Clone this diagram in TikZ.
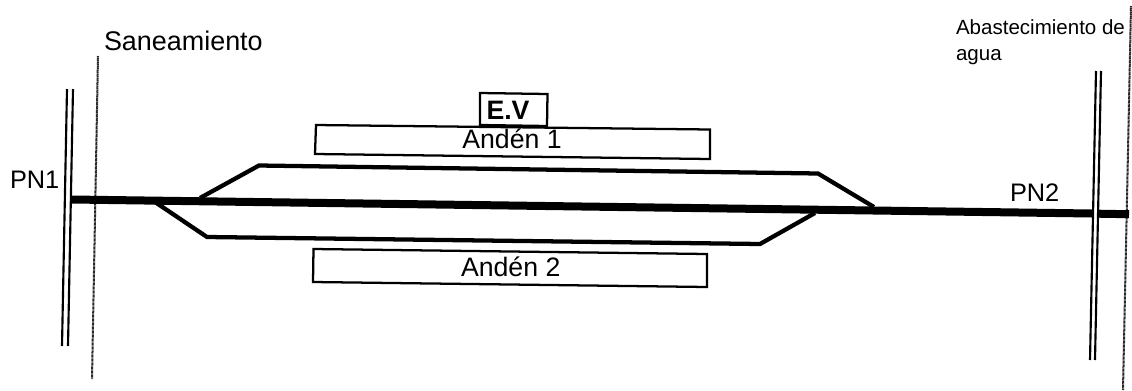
\documentclass[tikz,border=0pt]{standalone}
\usepackage{fontspec}
\setmainfont{Liberation Sans}
\tikzset{
  px/.style={x=0.75pt,y=-0.75pt},
  barrier/.style={line width=1.6pt,black},
  limitline/.style={line width=1.5pt,black!85,dash pattern=on 0.7pt off 0.3pt},
  mainline/.style={line width=6pt,black},
  siding/.style={line width=3.2pt,black,line join=miter},
  platform/.style={line width=1.7pt,black,line join=miter},
  lbl/.style={inner sep=0pt,outer sep=0pt,anchor=base west,text=black},
  lblc/.style={inner sep=0pt,outer sep=0pt,anchor=base,text=black}
}
\newcommand{\fs}[1]{\fontsize{#1}{#1}\selectfont}
\begin{document}
\begin{tikzpicture}[px]
\path[use as bounding box,fill=white] (0,0) rectangle (1132,390);
% named points
\coordinate (b1at) at (67,89);   \coordinate (b1ab) at (62,346);
\coordinate (b1bt) at (73,89);   \coordinate (b1bb) at (68,346);
\coordinate (d1t) at (98,56);    \coordinate (d1b) at (92,379);
\coordinate (b2at) at (1096,71); \coordinate (b2ab) at (1090,360);
\coordinate (b2bt) at (1101,71); \coordinate (b2bb) at (1095,360);
\coordinate (d2t) at (1131,6);   \coordinate (d2b) at (1123,390);
\coordinate (mL) at (72,199.5);  \coordinate (mA) at (1092,213.5);
\coordinate (mB) at (1098,213.7);\coordinate (mR) at (1129,214.2);
\coordinate (u0) at (200,198);   \coordinate (u1) at (259,165.5);
\coordinate (u2) at (818,173.5); \coordinate (u3) at (874,207);
\coordinate (l0) at (155,202);   \coordinate (l1) at (207,237);
\coordinate (l2) at (760,244);   \coordinate (l3) at (815,213);
\coordinate (a1a) at (316,125);  \coordinate (a1b) at (710,129.5);
\coordinate (a1c) at (710,159);  \coordinate (a1d) at (315,154);
\coordinate (a2a) at (313.5,249);\coordinate (a2b) at (707,254);
\coordinate (a2c) at (707,287);  \coordinate (a2d) at (313,282);
\coordinate (eva) at (480,93);   \coordinate (evb) at (547.5,94);
\coordinate (evc) at (547,126);  \coordinate (evd) at (480,125);
% limits
\draw[limitline] (d1t) -- (d1b);
\draw[limitline] (d2t) -- (d2b);
% tracks
\draw[mainline] (mL) -- (mA);
\draw[mainline] (mB) -- (mR);
\draw[siding] (u0) -- (u1) -- (u2) -- (u3);
\draw[siding] (l0) -- (l1) -- (l2) -- (l3);
% level crossings
\draw[barrier] (b1at) -- (b1ab);
\draw[barrier] (b1bt) -- (b1bb);
\draw[barrier] (b2at) -- (b2ab);
\draw[barrier] (b2bt) -- (b2bb);
% platforms
\draw[platform] (a1a) -- (a1b) -- (a1c) -- (a1d) -- cycle;
\draw[platform] (a2a) -- (a2b) -- (a2c) -- (a2d) -- cycle;
\draw[platform] (eva) -- (evb) -- (evc) -- (evd) -- cycle;
% labels
\node[lbl] (san) at (104,50) {\fs{20.2pt}Saneamiento};
\node[lbl] (pn1) at (10,188.7) {\fs{19pt}PN1};
\node[lbl] (pn2) at (1010,201.7) {\fs{19pt}PN2};
\node[lbl] (aba) at (956,34.3) {\fs{15.4pt}Abastecimiento de};
\node[lbl] (agu) at (956,60.7) {\fs{15.4pt}agua};
\node[lblc] (ev) at (508,119) {\fs{20pt}\bfseries E.V};
\node[lblc] (an1) at (512,148) {\fs{20pt}Andén 1};
\node[lblc] (an2) at (510.7,276) {\fs{20pt}Andén 2};
\end{tikzpicture}
\end{document}
